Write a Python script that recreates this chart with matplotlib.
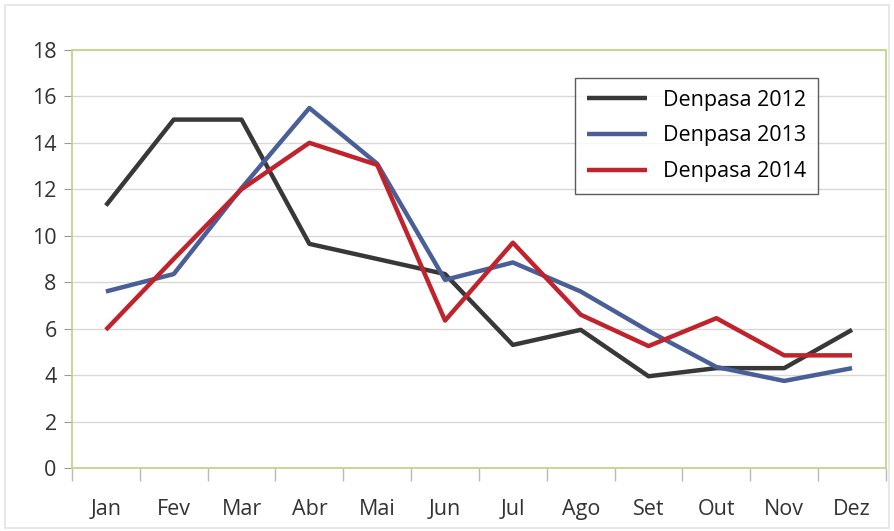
import matplotlib
matplotlib.use("Agg")
import matplotlib.pyplot as plt
import numpy as np

plt.rcParams["font.family"] = ["Open Sans", "DejaVu Sans"]

months = ["Jan", "Fev", "Mar", "Abr", "Mai", "Jun", "Jul", "Ago", "Set", "Out", "Nov", "Dez"]
denpasa_2012 = [11.3, 15.0, 15.0, 9.65, 9.0, 8.35, 5.3, 5.95, 3.95, 4.3, 4.3, 5.95]
denpasa_2013 = [7.6, 8.35, 12.05, 15.5, 13.1, 8.1, 8.85, 7.6, 5.9, 4.35, 3.75, 4.3]
denpasa_2014 = [5.95, 9.0, 12.0, 14.0, 13.05, 6.35, 9.7, 6.6, 5.25, 6.45, 4.85, 4.85]

series = [
    ("Denpasa 2012", denpasa_2012, "#383838"),
    ("Denpasa 2013", denpasa_2013, "#4a5e98"),
    ("Denpasa 2014", denpasa_2014, "#c0232b"),
]

fig = plt.figure(figsize=(8.94, 5.31), dpi=100)
ax = fig.add_axes([0.0805, 0.1186, 0.9105, 0.7874])

x = np.arange(len(months))
for label, vals, col in series:
    ax.plot(x, vals, color=col, lw=3.2, label=label, solid_capstyle="butt")

ax.set_xlim(-0.5, len(months) - 0.5)
ax.set_ylim(0, 18)
ax.set_yticks(range(0, 19, 2))
ax.set_xticks(x)
ax.set_xticklabels(months)
ax.set_xticks(np.arange(-0.5, len(months), 1.0), minor=True)

ax.grid(axis="y", color="#d8d8d8", lw=1.0)
ax.set_axisbelow(True)
for sp in ax.spines.values():
    sp.set_color("#c4d48a")
    sp.set_linewidth(1.3)

ax.tick_params(axis="y", length=6, color="#999999", labelsize=15.5, labelcolor="#333333", pad=5)
ax.tick_params(axis="x", which="major", length=0, labelsize=15.5, labelcolor="#333333", pad=22)
ax.tick_params(axis="x", which="minor", length=9, color="#bbbbbb", width=1.0)

leg = ax.legend(loc="upper right", bbox_to_anchor=(0.9165, 0.933), fontsize=15.5,
                frameon=True, fancybox=False, handlelength=2.8, handletextpad=0.75,
                borderpad=0.55, labelspacing=0.68, borderaxespad=0)
leg.get_frame().set_edgecolor("#333333")
leg.get_frame().set_linewidth(1.0)

fig.patches.append(plt.Rectangle((0.006, 0.006), 0.988, 0.984, transform=fig.transFigure,
                                 fill=False, edgecolor="#e4e4e4", lw=1.2))

fig.savefig("out.png", dpi=100)
